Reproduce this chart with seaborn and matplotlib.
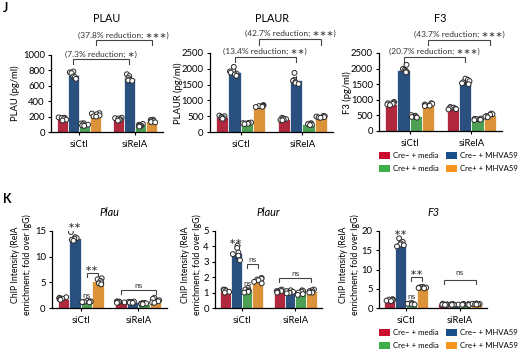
import warnings
warnings.filterwarnings("ignore")
import numpy as np
import pandas as pd
import matplotlib
matplotlib.use("Agg")
import matplotlib.pyplot as plt
from matplotlib.patches import Patch
import seaborn as sns

# ---------------- data ----------------
groups = ["siCtl", "siRelA"]
conds = ["Cre\u2212 + media", "Cre\u2212 + MHVA59", "Cre+ + media", "Cre+ + MHVA59"]
colors = ["#C8102E", "#1B4F8C", "#3DAE49", "#F7941D"]

# replicate values: [group][condition] -> list
plau_elisa = [
    [[190, 186, 182, 175, 160, 150], [785, 775, 765, 720, 712, 690],
     [115, 110, 100, 95, 85, 80], [245, 240, 230, 215, 205, 200]],
    [[185, 180, 175, 165, 155, 148], [750, 725, 700, 680, 670, 665],
     [105, 95, 85, 80, 75, 70], [160, 155, 150, 140, 130, 125]],
]
plaur_elisa = [
    [[520, 500, 480, 460, 440, 420], [2060, 1920, 1880, 1850, 1820, 1780],
     [300, 290, 280, 270, 260, 250], [850, 840, 830, 820, 800, 790]],
    [[450, 430, 410, 400, 380, 370], [1870, 1650, 1620, 1580, 1550, 1520],
     [280, 260, 250, 240, 230, 220], [510, 500, 490, 470, 460, 450]],
]
f3_elisa = [
    [[930, 910, 890, 870, 850, 830], [2120, 1990, 1960, 1930, 1900, 1880],
     [510, 490, 470, 450, 440, 430], [890, 870, 850, 830, 810, 800]],
    [[770, 750, 730, 720, 700, 690], [1680, 1640, 1600, 1560, 1530, 1500],
     [400, 390, 380, 370, 360, 350], [560, 540, 520, 480, 460, 440]],
]
plau_chip = [
    [[2.1, 2.0, 1.9, 1.8, 1.7, 1.6], [14.8, 13.8, 13.6, 13.5, 13.3, 13.1],
     [1.4, 1.3, 1.25, 1.2, 1.15, 1.1], [5.8, 5.6, 5.3, 5.0, 4.8, 4.6]],
    [[1.3, 1.25, 1.2, 1.15, 1.1, 1.0], [1.25, 1.2, 1.15, 1.1, 1.05, 1.0],
     [1.0, 0.95, 0.9, 0.85, 0.8, 0.75], [2.0, 1.8, 1.5, 1.3, 1.1, 1.0]],
]
plaur_chip = [
    [[1.2, 1.18, 1.15, 1.1, 1.05, 1.0], [4.05, 3.9, 3.6, 3.5, 3.4, 3.1],
     [1.3, 1.2, 1.15, 1.1, 1.05, 1.0], [1.95, 1.9, 1.85, 1.8, 1.7, 1.6]],
    [[1.2, 1.15, 1.1, 1.1, 1.05, 1.0], [1.15, 1.1, 1.05, 1.0, 0.98, 0.95],
     [1.15, 1.1, 1.05, 1.0, 0.9, 0.85], [1.2, 1.15, 1.1, 1.05, 1.0, 1.0]],
]
f3_chip = [
    [[2.3, 2.2, 2.1, 2.0, 1.9, 1.8], [18.1, 17.2, 16.8, 16.5, 16.3, 16.0],
     [1.3, 1.2, 1.1, 1.0, 0.95, 0.9], [5.5, 5.4, 5.3, 5.3, 5.2, 5.1]],
    [[1.1, 1.0, 0.95, 0.9, 0.85, 0.8], [1.0, 0.95, 0.9, 0.9, 0.85, 0.8],
     [1.05, 1.0, 0.95, 0.9, 0.85, 0.8], [1.2, 1.1, 1.05, 1.0, 0.95, 0.9]],
]

top_titles = ["PLAU", "PLAUR", "F3"]
top_ylabels = ["PLAU (pg/ml)", "PLAUR (pg/ml)", "F3 (pg/ml)"]
bot_titles = ["Plau", "Plaur", "F3"]
bot_ylabel = "ChIP Intensity (RelA\nenrichment; fold over IgG)"
reductions = [("(7.3% reduction; \u2217)", "(37.8% reduction; \u2217\u2217\u2217)"),
              ("(13.4% reduction; \u2217\u2217)", "(42.7% reduction; \u2217\u2217\u2217)"),
              ("(20.7% reduction; \u2217\u2217\u2217)", "(43.7% reduction; \u2217\u2217\u2217)")]


def to_df(vals):
    rows = []
    for gi, g in enumerate(groups):
        for ci, c in enumerate(conds):
            for v in vals[gi][ci]:
                rows.append((g, c, v))
    return pd.DataFrame(rows, columns=["group", "cond", "value"])


# ---------------- style ----------------
plt.rcParams["font.family"] = ["Lato", "DejaVu Sans"]
plt.rcParams["axes.linewidth"] = 0.9
np.random.seed(7)  # only for horizontal jitter of the dots
W, H = 520, 354
fig = plt.figure(figsize=(W / 100, H / 100), dpi=100)


def rect(x0, x1, ytop, ybot):
    return [x0 / W, 1 - ybot / H, (x1 - x0) / W, (ybot - ytop) / H]


def draw(ax, vals, ylim, yticks):
    df = to_df(vals)
    sns.barplot(data=df, x="group", y="value", hue="cond", order=groups,
                hue_order=conds, palette=colors, errorbar="sd", capsize=0,
                err_kws={"linewidth": 0.6, "color": "#111"}, edgecolor="white",
                linewidth=0.5, legend=False, ax=ax)
    sns.stripplot(data=df, x="group", y="value", hue="cond", order=groups,
                  hue_order=conds, palette={c: "white" for c in conds},
                  dodge=True, jitter=0.3, size=3.5, edgecolor="#2a2a2a",
                  linewidth=0.7, legend=False, ax=ax)
    ax.set_xlim(-0.5, 1.5)
    ax.set_ylim(*ylim)
    ax.set_yticks(yticks)
    ax.set_xlabel("")
    ax.set_ylabel("")
    sns.despine(ax=ax)
    ax.tick_params(axis="both", labelsize=6.8, length=2.5, width=0.8, pad=2)
    ax.tick_params(axis="x", pad=3)


SYM = ["Lato", "DejaVu Sans"]


def bracket(ax, x1, x2, y, yb, text, ty, fs=6.0, color="#444"):
    ax.plot([x1, x1, x2, x2], [yb, y, y, yb], color=color, lw=0.8,
            clip_on=False, solid_joinstyle="miter")
    ax.text((x1 + x2) / 2, ty, text, ha="center", va="center", fontsize=fs,
            color="#333", clip_on=False, family=SYM)


def label(ax, x, y, text, fs=6.0):
    ax.text(x, y, text, ha="center", va="center", fontsize=fs, color="#333",
            clip_on=False, family=SYM)


# hue offsets within a category
off = [-0.3, -0.1, 0.1, 0.3]

# ---------------- top row ----------------
top_rects = [rect(51, 163, 55, 132), rect(210, 333, 53, 132), rect(379, 502, 53, 131)]
top_data = [plau_elisa, plaur_elisa, f3_elisa]
top_ylims = [(0, 1000), (0, 2500), (0, 2500)]
top_ticks = [[0, 200, 400, 600, 800, 1000], [0, 500, 1000, 1500, 2000, 2500],
             [0, 500, 1000, 1500, 2000, 2500]]
# bracket y (line, tick bottom, text)
top_br = [((948, 883, 1013), (1195, 1130, 1260)),
          ((2370, 2212, 2560), (2940, 2750, 3130)),
          ((2372, 2211, 2564), (2917, 2756, 3109))]
top_ylab_x = [15, 178, 347]

for i in range(3):
    ax = fig.add_axes(top_rects[i])
    draw(ax, top_data[i], top_ylims[i], top_ticks[i])
    b1, b2 = top_br[i]
    bracket(ax, off[1], 1 + off[1], b1[0], b1[1], reductions[i][0], b1[2])
    bracket(ax, off[3], 1 + off[3], b2[0], b2[1], reductions[i][1], b2[2])
    r = top_rects[i]
    cx = (r[0] + r[2] / 2)
    fig.text(cx, 1 - 18 / H, top_titles[i], ha="center", va="center", fontsize=7.8)
    fig.text(top_ylab_x[i] / W, 1 - 93 / H, top_ylabels[i], rotation=90,
             ha="center", va="center", fontsize=6.8)

# ---------------- bottom row ----------------
bot_rects = [rect(52, 167, 231, 308), rect(215, 322, 231, 308), rect(379, 487, 231, 308)]
bot_data = [plau_chip, plaur_chip, f3_chip]
bot_ylims = [(0, 15), (0, 5), (0, 20)]
bot_ticks = [[0, 5, 10, 15], [0, 1, 2, 3, 4, 5], [0, 5, 10, 15, 20]]
# (star y above blue, ns y above green, go-bracket (line, tick, text, label),
#  siRelA bracket (line, tick, text))
bot_ann = [
    (16.0, 2.34, (6.82, 6.04, 7.6, "\u2217\u2217"), (3.5, 2.73, 4.3)),
    (4.35, 1.62, (2.86, 2.6, 3.18, "ns"), (1.95, 1.69, 2.27)),
    (19.5, 2.86, (8.05, 7.0, 9.1, "\u2217\u2217"), (7.27, 6.23, 9.1)),
]
bot_ylab_x = [21, 191, 349]

for i in range(3):
    ax = fig.add_axes(bot_rects[i])
    draw(ax, bot_data[i], bot_ylims[i], bot_ticks[i])
    star_y, ns_y, go, sr = bot_ann[i]
    label(ax, off[1], star_y, "\u2217\u2217")
    label(ax, off[2], ns_y, "ns")
    bracket(ax, off[2], off[3], go[0], go[1], go[3], go[2])
    bracket(ax, 1 + off[0], 1 + off[3], sr[0], sr[1], "ns", sr[2])
    r = bot_rects[i]
    cx = (r[0] + r[2] / 2)
    fig.text(cx, 1 - 212 / H, bot_titles[i], ha="center", va="center",
             fontsize=7.8, style="italic")
    fig.text(bot_ylab_x[i] / W, 1 - 265 / H, bot_ylabel, rotation=90,
             ha="center", va="center", fontsize=6.3, linespacing=1.35)

# ---------------- legends ----------------
handles = [Patch(facecolor=colors[k], edgecolor="none", label=conds[k]) for k in (0, 2, 1, 3)]
for ytop in (152, 329):
    fig.legend(handles=handles, ncol=2, loc="upper left",
               bbox_to_anchor=(379 / W, 1 - ytop / H), frameon=False,
               fontsize=5.6, handlelength=1.4, handleheight=0.95,
               handletextpad=0.4, columnspacing=0.9, borderpad=0,
               borderaxespad=0, labelspacing=0.75)

# panel labels
fig.text(3 / W, 1 - 8 / H, "J", fontsize=9, fontweight="bold", ha="left", va="center")
fig.text(3 / W, 1 - 199 / H, "K", fontsize=9, fontweight="bold", ha="left", va="center")

fig.savefig("out.png", dpi=100)
